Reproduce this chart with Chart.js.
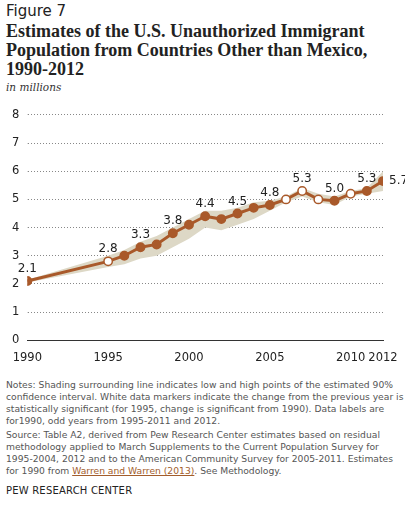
<!DOCTYPE html>
<html><head><meta charset="utf-8">
<script src="https://cdn.jsdelivr.net/npm/chart.js@4"></script>
<style>
body{margin:0;width:410px;height:516px;background:#fff;font-family:"DejaVu Sans",Verdana,sans-serif;color:#333;overflow:hidden}
#fig{position:absolute;left:6px;top:2px;font-size:15px;color:#222}
#title{position:absolute;left:6px;top:22px;width:400px;font-family:"Liberation Serif",Georgia,serif;font-weight:bold;font-size:18px;line-height:19px;color:#222}
#sub{position:absolute;left:6px;top:81px;font-family:Georgia,"DejaVu Serif",serif;font-style:italic;font-size:10.5px;color:#333}
#wrap{position:absolute;left:0;top:100px;width:405px;height:268px}
.note{position:absolute;left:6px;width:398px;font-size:9.2px;line-height:12px;color:#555}
#src a{color:#a35d2c}
#pew{position:absolute;left:6px;top:485px;font-size:10px;letter-spacing:0.2px;color:#222}
</style></head><body>
<div id="fig">Figure 7</div>
<div id="title">Estimates of the U.S. Unauthorized Immigrant Population from Countries Other than Mexico, 1990-2012</div>
<div id="sub">in millions</div>
<div id="wrap"><canvas id="c"></canvas></div>
<div class="note" style="top:379px">Notes: Shading surrounding line indicates low and high points of the estimated 90% confidence interval. White data markers indicate the change from the previous year is statistically significant (for 1995, change is significant from 1990). Data labels are for1990, odd years from 1995-2011 and 2012.</div>
<div class="note" id="src" style="top:429px">Source: Table A2, derived from Pew Research Center estimates based on residual methodology applied to March Supplements to the Current Population Survey for 1995-2004, 2012 and to the American Community Survey for 2005-2011. Estimates for 1990 from <a href="#">Warren and Warren (2013)</a>. See Methodology.</div>
<div id="pew">PEW RESEARCH CENTER</div>
<script>
const years=[1990,1995,1996,1997,1998,1999,2000,2001,2002,2003,2004,2005,2006,2007,2008,2009,2010,2011,2012];
const values=[2.1,2.8,3.0,3.3,3.4,3.8,4.1,4.4,4.3,4.5,4.7,4.8,5.0,5.3,5.0,4.95,5.2,5.3,5.65];
const low=[2.05,2.6,2.7,2.9,3.0,3.3,3.6,4.0,3.9,4.1,4.3,4.6,4.9,5.1,4.9,4.8,5.1,5.2,5.3];
const high=[2.15,3.0,3.2,3.5,3.7,4.0,4.3,4.6,4.6,4.7,4.9,4.95,5.1,5.4,5.2,5.1,5.3,5.4,6.0];
const significant=[1995,2006,2007,2008,2010];
const labelText={1990:"2.1",1995:"2.8",1997:"3.3",1999:"3.8",2001:"4.4",2003:"4.5",2005:"4.8",2007:"5.3",2009:"5.0",2011:"5.3",2012:"5.7"};
const xTicks=[1990,1995,2000,2005,2010,2012];
const brown="#a9592a";

const pts=a=>years.map((y,i)=>({x:y,y:a[i]}));

const labelsPlugin={id:"lbl",afterDatasetsDraw(chart){
  const ctx=chart.ctx,meta=chart.getDatasetMeta(2);
  ctx.save();ctx.font="12px 'DejaVu Sans',Verdana,sans-serif";ctx.fillStyle="#222";
  years.forEach((y,i)=>{
    if(!labelText[y])return;
    const p=meta.data[i];
    if(y===2012){ctx.textAlign="left";ctx.textBaseline="middle";ctx.fillText(labelText[y],p.x+6,p.y);}
    else{ctx.textAlign="center";ctx.textBaseline="bottom";ctx.fillText(labelText[y],p.x,p.y-6);}
  });
  ctx.restore();
}};

new Chart(document.getElementById("c"),{
  type:"line",
  data:{datasets:[
    {data:pts(low),borderWidth:0,pointRadius:0,fill:false,order:3},
    {data:pts(high),borderWidth:0,pointRadius:0,fill:"-1",backgroundColor:"#ddd8c6",order:2},
    {data:pts(values),borderColor:brown,borderWidth:3,pointRadius:4.2,pointBorderWidth:1.5,
     pointBorderColor:brown,order:1,
     pointBackgroundColor:years.map(y=>significant.includes(y)?"#fff":brown),fill:false}
  ]},
  options:{animation:false,maintainAspectRatio:false,responsive:true,
    layout:{padding:{left:4,right:22,top:4}},
    plugins:{legend:{display:false},tooltip:{enabled:false}},
    scales:{
      x:{type:"linear",min:1990,max:2012,
        afterBuildTicks:s=>{s.ticks=xTicks.map(v=>({value:v}));},
        grid:{display:false},border:{color:"#333",width:1},
        ticks:{color:"#222",font:{size:11.5,family:"'DejaVu Sans',Verdana"},callback:v=>String(v),maxRotation:0,autoSkip:false}},
      y:{min:0,max:8,ticks:{stepSize:1,color:"#222",padding:8,font:{size:11.5,family:"'DejaVu Sans',Verdana"}},
        grid:{color:ctx=>ctx.tick&&ctx.tick.value===0?"rgba(0,0,0,0)":"#888",tickLength:0,lineWidth:1},
        border:{display:true,color:"rgba(0,0,0,0)",dash:[1,2]}}
    }},
  plugins:[labelsPlugin]
});
</script>
</body></html>
